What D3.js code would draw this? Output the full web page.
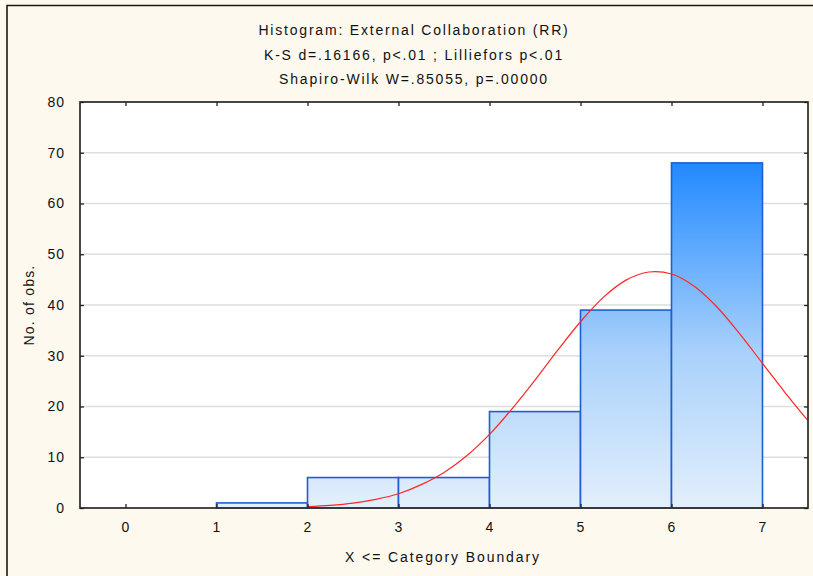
<!DOCTYPE html>
<html>
<head>
<meta charset="utf-8">
<script src="https://cdn.jsdelivr.net/npm/d3@7"></script>
<style>
  html, body { margin: 0; padding: 0; background: #fdf9ef; }
  svg { display: block; }
  text { font-family: "Liberation Sans", Arial, sans-serif; fill: #111; }
</style>
</head>
<body>
<script>
// Histogram bins: lower/upper category boundaries and observed counts
const binStarts = [1, 2, 3, 4, 5, 6];
const binEnds   = [2, 3, 4, 5, 6, 7];
const counts    = [1, 6, 6, 19, 39, 68];

// Fitted normal curve, expected counts at each x
const fitX = [2, 2.25, 2.5, 2.75, 3, 3.25, 3.5, 3.75, 4, 4.25, 4.5, 4.75, 5, 5.25, 5.5, 5.75, 6, 6.25, 6.5, 6.75, 7, 7.25, 7.5];
const fitY = [0.27, 0.52, 0.96, 1.7, 2.8, 4.6, 7.0, 10.3, 14.5, 19.6, 25.2, 31.1, 36.7, 41.5, 44.9, 46.5, 46.1, 43.7, 39.6, 34.3, 28.5, 22.7, 17.2];

const xTicks = [0, 1, 2, 3, 4, 5, 6, 7];
const yTicks = [0, 10, 20, 30, 40, 50, 60, 70, 80];

const titleLines = [
  "Histogram: External Collaboration (RR)",
  "K-S d=.16166, p<.01 ; Lilliefors p<.01",
  "Shapiro-Wilk W=.85055, p=.00000"
];
const xTitle = "X <= Category Boundary";
const yTitle = "No. of obs.";

const W = 813, H = 576;
const plot = { left: 80, right: 808, top: 102, bottom: 508 };

const svg = d3.select("body").append("svg").attr("width", W).attr("height", H);

// Outer frame (top and left edges)
svg.append("path")
  .attr("d", `M7,${H} L7,5.5 L${W},5.5`)
  .attr("fill", "none").attr("stroke", "#1a1a1a").attr("stroke-width", 1.6);

const x = d3.scaleLinear().domain([-0.5, 7.5]).range([plot.left, plot.right]);
const y = d3.scaleLinear().domain([0, 80]).range([plot.bottom, plot.top]);

// Plot area background
svg.append("rect")
  .attr("x", plot.left).attr("y", plot.top)
  .attr("width", plot.right - plot.left).attr("height", plot.bottom - plot.top)
  .attr("fill", "#ffffff");

// Horizontal gridlines
svg.append("g").selectAll("line").data(yTicks.filter(d => d > 0 && d < 80)).join("line")
  .attr("x1", plot.left).attr("x2", plot.right)
  .attr("y1", d => y(d)).attr("y2", d => y(d))
  .attr("stroke", "#dedede").attr("stroke-width", 1.5);

// Bar gradient in plot coordinates: pale at the baseline, saturated higher up
const defs = svg.append("defs");
const grad = defs.append("linearGradient").attr("id", "barFill")
  .attr("gradientUnits", "userSpaceOnUse")
  .attr("x1", 0).attr("x2", 0).attr("y1", y(0)).attr("y2", y(68));
grad.append("stop").attr("offset", 0).attr("stop-color", "#e3effc");
grad.append("stop").attr("offset", 0.45).attr("stop-color", "#a9d1fb");
grad.append("stop").attr("offset", 1).attr("stop-color", "#2189ff");

const bins = counts.map((c, i) => ({ x0: binStarts[i], x1: binEnds[i], n: c }));
svg.append("g").selectAll("rect").data(bins).join("rect")
  .attr("x", d => x(d.x0))
  .attr("y", d => y(d.n))
  .attr("width", d => x(d.x1) - x(d.x0))
  .attr("height", d => y(0) - y(d.n))
  .attr("fill", "url(#barFill)")
  .attr("stroke", "#1d5fd2").attr("stroke-width", 1.6);

// Normal fit curve
const fit = fitX.map((v, i) => [v, fitY[i]]);
svg.append("path")
  .datum(fit)
  .attr("d", d3.line().x(d => x(d[0])).y(d => y(d[1])).curve(d3.curveCatmullRom))
  .attr("fill", "none").attr("stroke", "#ff2626").attr("stroke-width", 1.2);

// Plot frame
svg.append("rect")
  .attr("x", plot.left).attr("y", plot.top)
  .attr("width", plot.right - plot.left).attr("height", plot.bottom - plot.top)
  .attr("fill", "none").attr("stroke", "#333").attr("stroke-width", 1.8);

// Axes with inward ticks
const tk = 4;
const labelStyle = sel => sel.attr("font-size", 14).attr("letter-spacing", 1)
  .attr("font-family", "'Liberation Sans', Arial, sans-serif").attr("fill", "#111");

const xAxisB = d3.axisBottom(x).tickValues(xTicks).tickSizeInner(-tk).tickSizeOuter(0).tickPadding(14);
const gxb = svg.append("g").attr("transform", `translate(0,${plot.bottom})`).call(xAxisB);
gxb.select(".domain").remove();
gxb.selectAll("line").attr("stroke", "#222").attr("stroke-width", 1.3);
gxb.selectAll("text").call(labelStyle);

const xAxisT = d3.axisTop(x).tickValues(xTicks).tickSizeInner(-tk).tickSizeOuter(0).tickFormat("");
const gxt = svg.append("g").attr("transform", `translate(0,${plot.top})`).call(xAxisT);
gxt.select(".domain").remove();
gxt.selectAll("line").attr("stroke", "#222").attr("stroke-width", 1.3);

const yAxisL = d3.axisLeft(y).tickValues(yTicks).tickSizeInner(-tk).tickSizeOuter(0).tickPadding(15);
const gyl = svg.append("g").attr("transform", `translate(${plot.left},0)`).call(yAxisL);
gyl.select(".domain").remove();
gyl.selectAll("line").attr("stroke", "#222").attr("stroke-width", 1.3);
gyl.selectAll("text").call(labelStyle);

const yAxisR = d3.axisRight(y).tickValues(yTicks).tickSizeInner(-tk).tickSizeOuter(0).tickFormat("");
const gyr = svg.append("g").attr("transform", `translate(${plot.right},0)`).call(yAxisR);
gyr.select(".domain").remove();
gyr.selectAll("line").attr("stroke", "#222").attr("stroke-width", 1.3);

// Titles
svg.append("g").selectAll("text").data(titleLines).join("text")
  .attr("x", 414).attr("y", (d, i) => 35 + i * 24.7)
  .attr("text-anchor", "middle")
  .attr("font-size", 14).attr("letter-spacing", 1.8)
  .text(d => d);

svg.append("text")
  .attr("x", 443).attr("y", 562)
  .attr("text-anchor", "middle")
  .attr("font-size", 14).attr("letter-spacing", 1.9)
  .text(xTitle);

svg.append("text")
  .attr("transform", `translate(34,${(plot.top + plot.bottom) / 2}) rotate(-90)`)
  .attr("text-anchor", "middle")
  .attr("font-size", 14).attr("letter-spacing", 1.2)
  .text(yTitle);
</script>
</body>
</html>
